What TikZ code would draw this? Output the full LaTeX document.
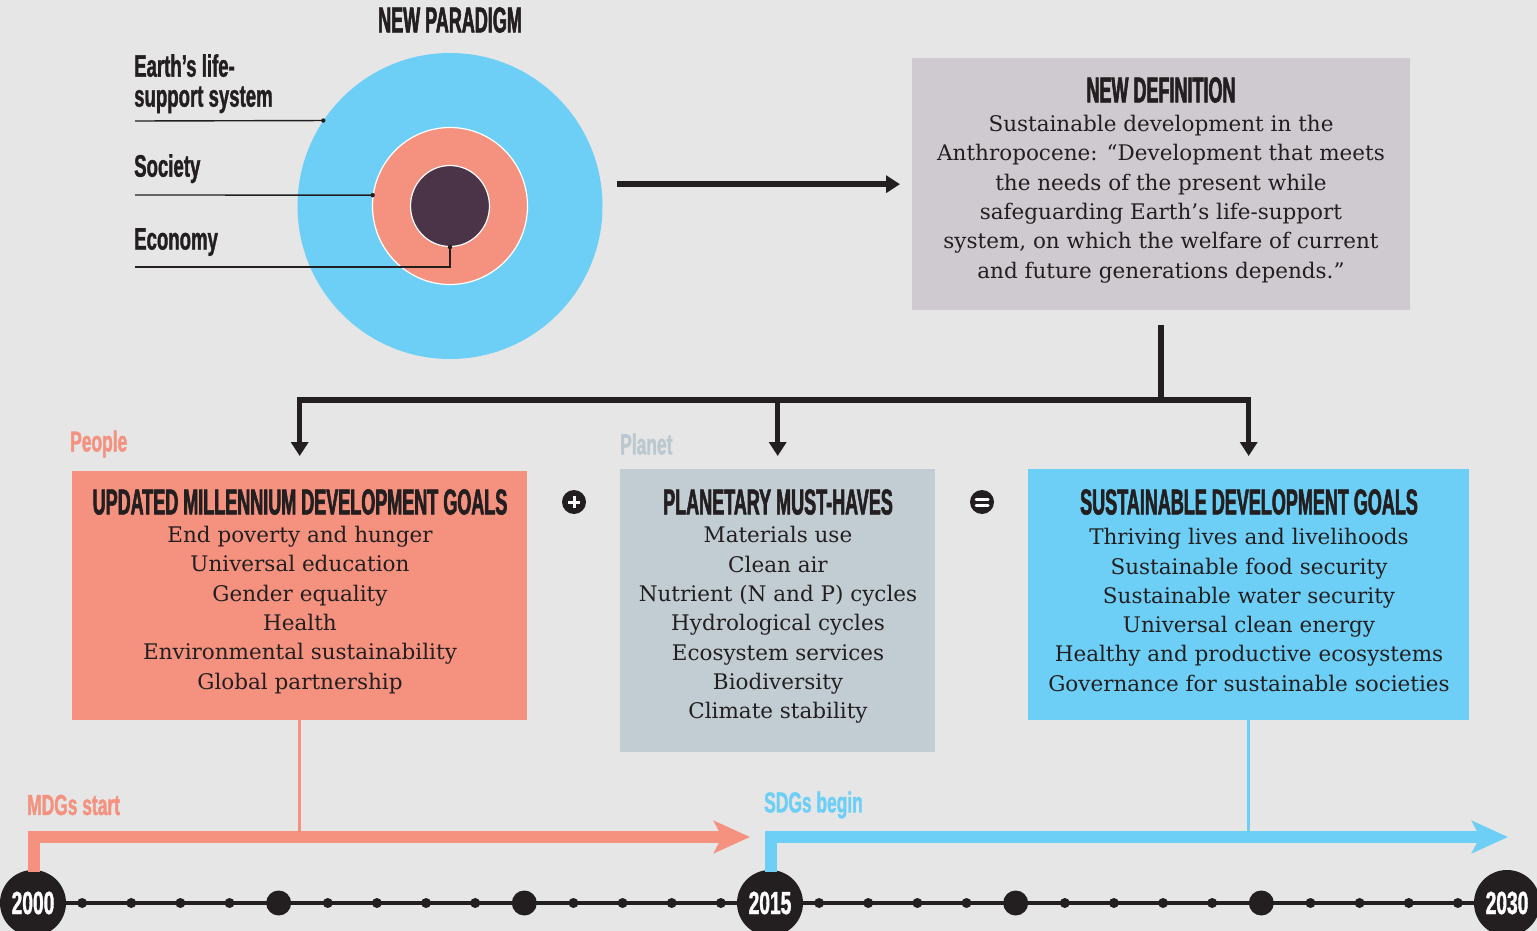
\documentclass[tikz,border=0pt]{standalone}
\usepackage{fontspec}
\usetikzlibrary{arrows.meta,shapes.geometric}
\newfontfamily\hfam[FakeStretch=0.5,FakeBold=1.6]{Liberation Sans}
\newfontfamily\lfam[FakeStretch=0.6,FakeBold=1.2]{Liberation Sans}
\newfontfamily\bodyfam{DejaVu Serif}
\definecolor{bg}{HTML}{E6E6E6}
\definecolor{skyb}{HTML}{6DCFF6}
\definecolor{salm}{HTML}{F4927F}
\definecolor{plum}{HTML}{4B3448}
\definecolor{defbox}{HTML}{CECACF}
\definecolor{planetbox}{HTML}{C2CDD3}
\definecolor{planetlab}{HTML}{BCC8CF}
\definecolor{ink}{HTML}{231F20}
\tikzset{
  head/.style={font=\hfam\bfseries\fontsize{36}{36}\selectfont, text=ink, inner sep=0pt},
  lab/.style={font=\lfam\bfseries\fontsize{31}{30}\selectfont, text=ink, inner sep=0pt, align=left},
  tag/.style={font=\lfam\bfseries\fontsize{29}{29}\selectfont, inner sep=0pt, anchor=west},
  body/.style={font=\bodyfam\fontsize{21.5}{29.3}\selectfont, text=ink, inner sep=0pt, align=center},
  panel/.style={inner sep=0pt, anchor=north west},
  leader/.style={draw=ink, line width=1.4pt},
  flow/.style={draw=ink, line width=5.5pt},
  flowarr/.style={draw=ink, line width=5.5pt, -{Triangle[length=14pt,width=17pt]}},
  yearnode/.style={circle, fill=ink, minimum size=66pt, inner sep=0pt, text=white,
     font=\lfam\bfseries\fontsize{32}{32}\selectfont},
  timearr/.style={line width=12.5pt, line join=miter, -{Stealth[length=36pt,width=32pt,inset=8pt]}},
}
\begin{document}
\begin{tikzpicture}[x=1pt,y=-1pt]
\fill[bg] (0,0) rectangle (1537,931);
\useasboundingbox (0,0) rectangle (1537,931);

% New paradigm
\node[head] (npt) at (450,20) {NEW PARADIGM};
\node[ellipse, fill=skyb, minimum width=305pt, minimum height=306pt, inner sep=0pt] (earth) at (450,206) {};
\node[ellipse, fill=salm, draw=white, line width=1.2pt, minimum width=155pt, minimum height=157pt, inner sep=0pt] (soc) at (450,206) {};
\node[ellipse, fill=plum, draw=white, line width=1.2pt, minimum width=79pt, minimum height=81pt, inner sep=0pt] (econ) at (450,206) {};

\node[lab, anchor=north west] (lab1) at (134,54) {Earth’s life-\\support system};
\node[lab, anchor=north west] (lab2) at (134,154) {Society};
\node[lab, anchor=north west] (lab3) at (134,228) {Economy};
\coordinate (l1) at (135,121);
\coordinate (l2) at (135,195);
\coordinate (l3) at (135,267);
\draw[leader] (l1) -- (earth.146);
\fill[ink] (earth.146) circle (2.2pt);
\draw[leader] (l2) -- (soc.172);
\fill[ink] (soc.172) circle (2.2pt);
\draw[leader] (econ.south) |- (l3);
\fill[ink] (econ.south) circle (2.2pt);

% Definition
\node[panel, fill=defbox, minimum width=498pt, minimum height=252pt] (def) at (912,58) {};
\node[head] (deft) at (1161,90) {NEW DEFINITION};
\node[body] (defb) at (1161,199) {Sustainable development in the\\Anthropocene: “Development that meets\\the needs of the present while\\safeguarding Earth’s life-support\\system, on which the welfare of current\\and future generations depends.”};

\draw[flowarr, shorten <=14pt, shorten >=12pt] (earth.east |- def.west) -- (def.west);

% Boxes
\node[panel, fill=salm, minimum width=455pt, minimum height=249pt] (mdg) at (72,471) {};
\node[panel, fill=planetbox, minimum width=315pt, minimum height=283pt] (pmh) at (620,469) {};
\node[panel, fill=skyb, minimum width=441pt, minimum height=251pt] (sdg) at (1028,469) {};

\node[head] (mdgt) at (300,502) {UPDATED MILLENNIUM DEVELOPMENT GOALS};
\node[head] (pmht) at (778,502) {PLANETARY MUST-HAVES};
\node[head] (sdgt) at (1249,502) {SUSTAINABLE DEVELOPMENT GOALS};

\node[body] (mdgb) at (300,610) {End poverty and hunger\\Universal education\\Gender equality\\Health\\Environmental sustainability\\Global partnership};
\node[body] (pmhb) at (778,625) {Materials use\\Clean air\\Nutrient (N and P) cycles\\Hydrological cycles\\Ecosystem services\\Biodiversity\\Climate stability};
\node[body] (sdgb) at (1249,610) {Thriving lives and livelihoods\\Sustainable food security\\Sustainable water security\\Universal clean energy\\Healthy and productive ecosystems\\Governance for sustainable societies};

\node[tag, text=salm] (people) at (70,444) {People};
\node[tag, text=planetlab] (planet) at (620,444) {Planet};

% plus and equals
\node[circle, fill=ink, minimum size=24pt, inner sep=0pt] (plus) at (574,502) {};
\draw[white, line width=3pt] ([xshift=-6pt]plus.center) -- ([xshift=6pt]plus.center);
\draw[white, line width=3pt] ([yshift=-6pt]plus.center) -- ([yshift=6pt]plus.center);
\node[circle, fill=ink, minimum size=24pt, inner sep=0pt] (eq) at (982,502) {};
\draw[white, line width=3pt, line cap=round] ([xshift=-6pt,yshift=-3pt]eq.center) -- ([xshift=6pt,yshift=-3pt]eq.center);
\draw[white, line width=3pt, line cap=round] ([xshift=-6pt,yshift=3pt]eq.center) -- ([xshift=6pt,yshift=3pt]eq.center);

% splitter
\coordinate (split) at (def.south |- 0,400);
\coordinate (jl) at (mdg.north |- split);
\coordinate (jm) at (pmh.north |- split);
\coordinate (jr) at (sdg.north |- split);
\draw[flow, shorten <=15pt] (def.south) -- (split);
\draw[flow, line cap=rect] (jl) -- (jr);
\draw[flowarr, shorten >=15pt] (jl) -- (mdg.north);
\draw[flowarr, shorten >=13pt] (jm) -- (pmh.north);
\draw[flowarr, shorten >=13pt] (jr) -- (sdg.north);

% timeline
\node[yearnode] (y2000) at (33,903) {2000};
\node[yearnode] (y2015) at (770,903) {2015};
\node[yearnode] (y2030) at (1507,903) {2030};
\draw[ink, line width=4pt] (y2000) -- (y2015);
\draw[ink, line width=4pt] (y2015) -- (y2030);
\foreach \k in {1,...,14}{
  \pgfmathsetmacro{\xa}{33+\k*49.133}
  \pgfmathsetmacro{\xb}{770+\k*49.133}
  \ifnum\k=5 \fill[ink] (\xa,903) circle (12.5pt); \fill[ink] (\xb,903) circle (12.5pt);
  \else\ifnum\k=10 \fill[ink] (\xa,903) circle (12.5pt); \fill[ink] (\xb,903) circle (12.5pt);
  \else \fill[ink] (\xa,903) circle (5pt); \fill[ink] (\xb,903) circle (5pt);
  \fi\fi
}

\coordinate (mtip) at (750,837);
\coordinate (stip) at (1508,837);
\draw[timearr, salm] (y2000.north -| 34,0) ++(0,2) |- (mtip);
\draw[timearr, skyb] (y2015.north -| 771,0) ++(0,2) |- (stip);
\draw[salm, line width=3pt] (mdg.south) -- (mdg.south |- mtip);
\draw[skyb, line width=3pt] (sdg.south) -- (sdg.south |- stip);
\node[tag, text=salm] (mdgs) at (27,805) {MDGs start};
\node[tag, text=skyb] (sdgs) at (764,805) {SDGs begin};
\end{tikzpicture}
\end{document}
